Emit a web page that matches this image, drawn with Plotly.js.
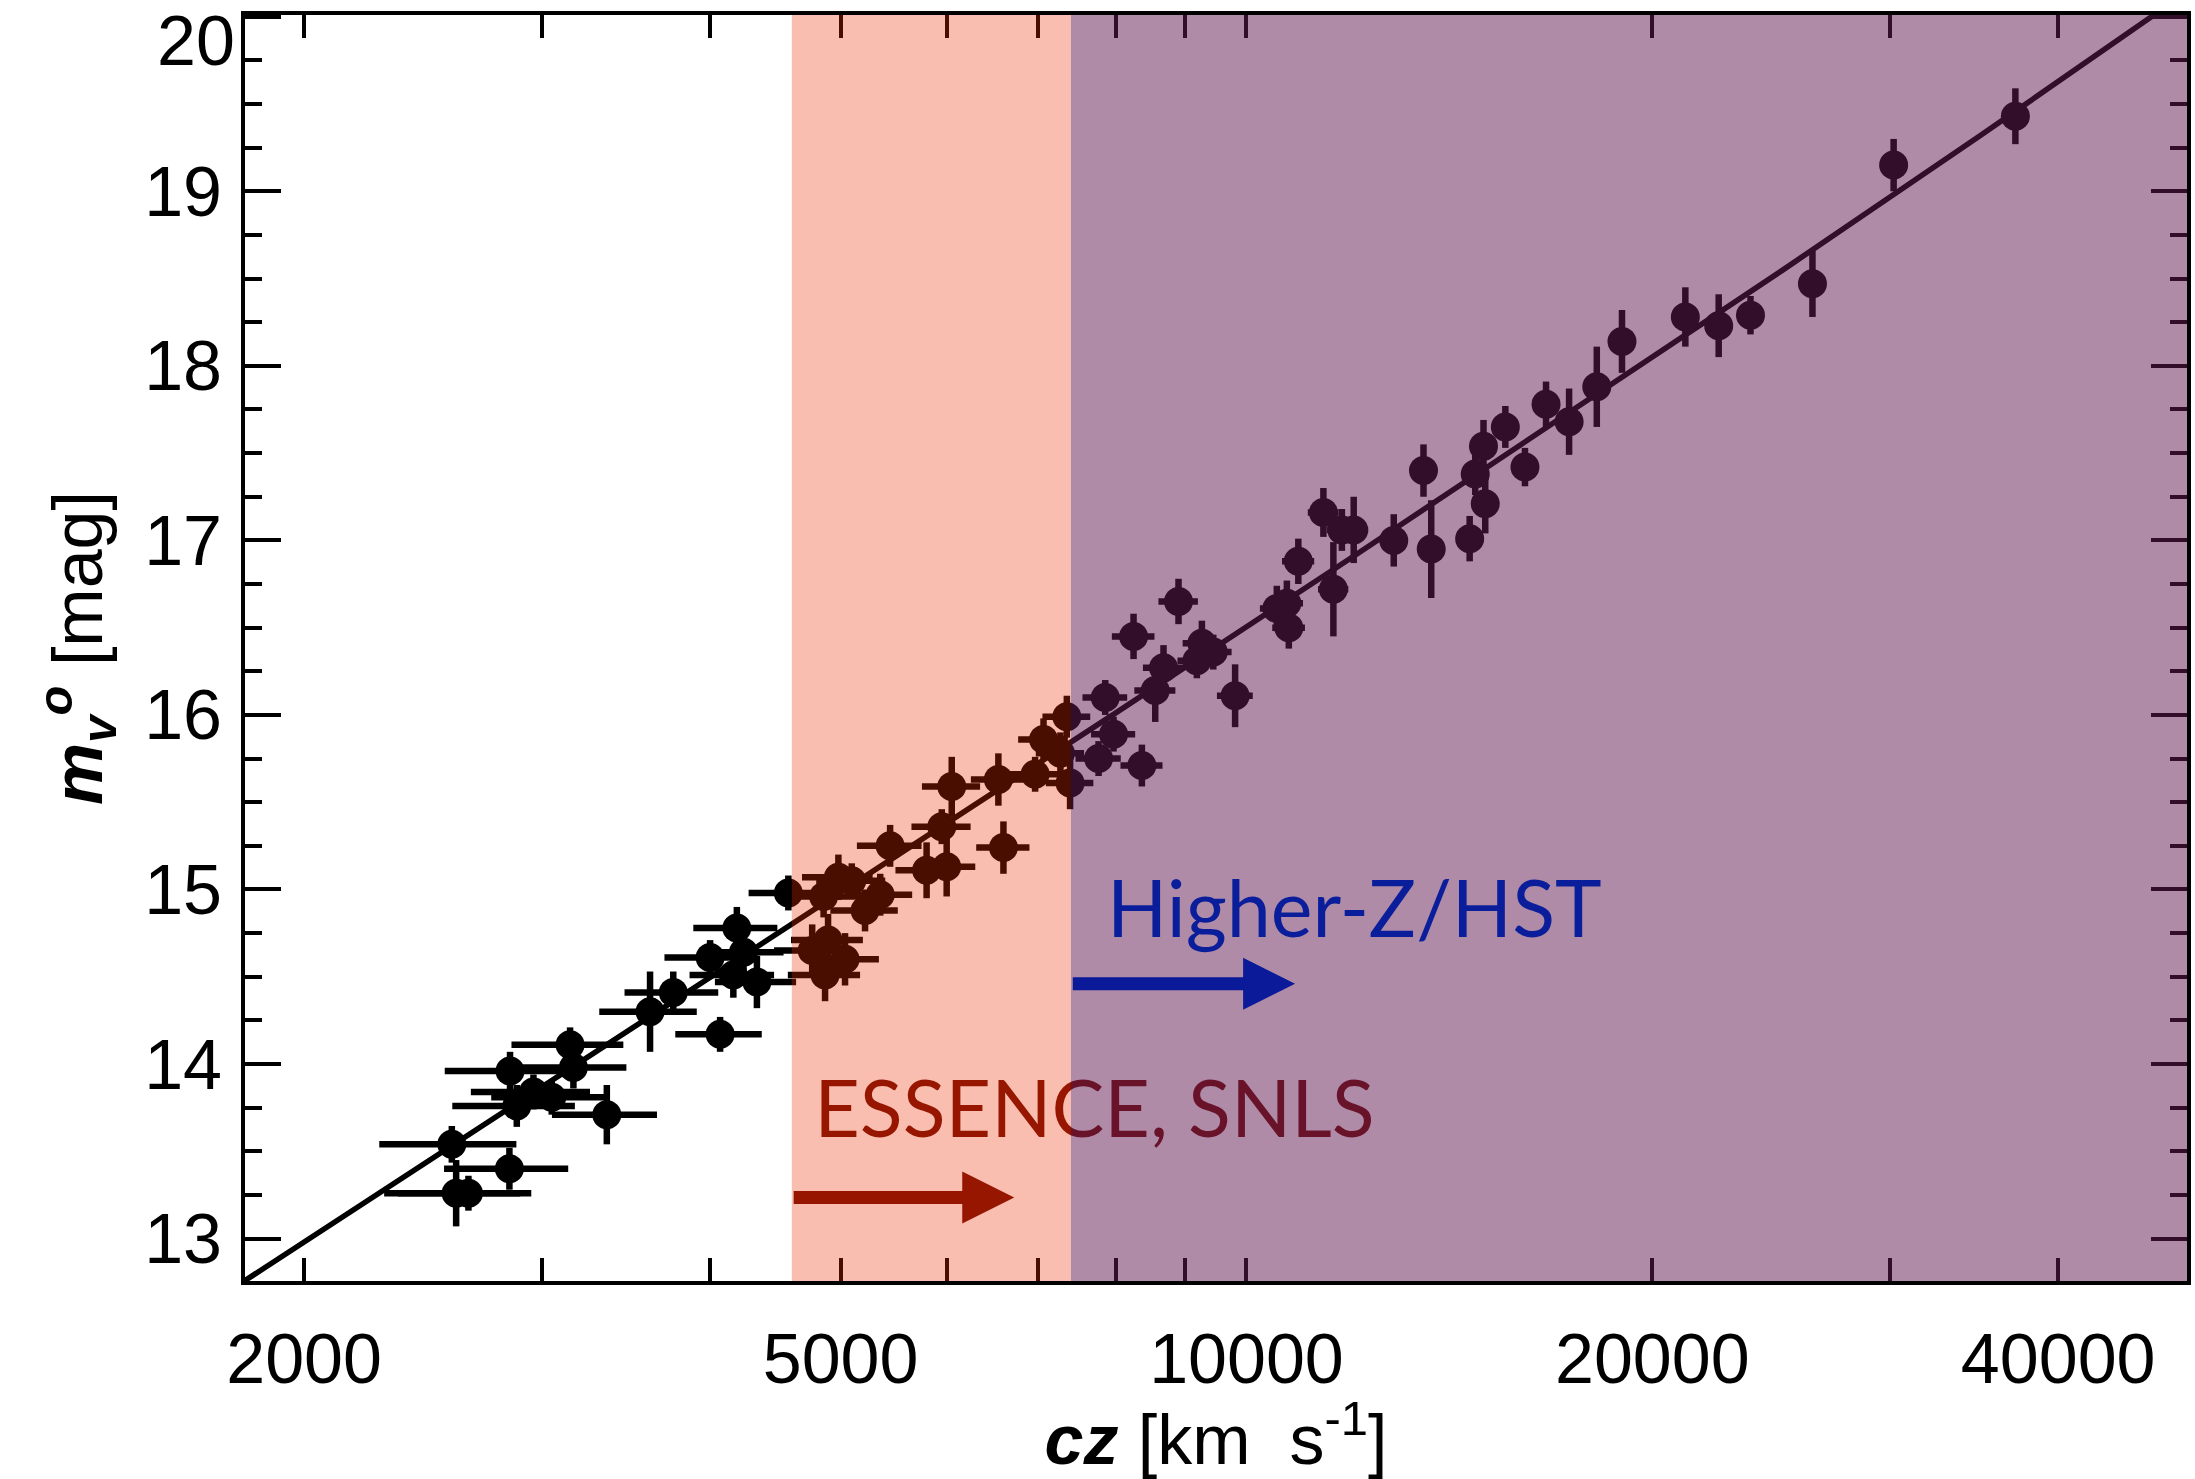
<!DOCTYPE html>
<html><head><meta charset="utf-8">
<script src="https://cdn.plot.ly/plotly-3.0.1.min.js"></script>
<style>html,body{margin:0;padding:0;background:#fff}</style>
</head><body><div id="chart" style="width:2195px;height:1479px"></div>
<script>
// Supernova data: recession velocity cz [km/s], peak magnitude m_V^0 [mag], magnitude error
const cz = [2574, 2593, 2648, 2840, 2843, 2876, 2959, 3053, 3150, 3168,
            3354, 3611, 3757, 4001, 4070, 4163, 4188, 4236, 4334, 4573,
            4763, 4857, 4869, 4894, 4981, 5038, 5096, 5213, 5350, 5441,
            5791, 5943, 5993, 6045, 6546, 6603, 6970, 7071, 7278, 7358,
            7399, 7768, 7857, 7969, 8246, 8364, 8557, 8679, 8904, 9188,
            9267, 9449, 9808, 10532, 10714, 10750, 10926, 11404, 11600, 11770,
            12010, 12860, 13530, 13710, 14640, 14780, 14990, 15035, 15560, 16090,
            16680, 17350, 18190, 18990, 21160, 22400, 23650, 26290, 30200, 37180];
const mag = [13.54, 13.26, 13.26, 13.40, 13.96, 13.76, 13.84, 13.81, 14.11, 13.98,
             13.71, 14.30, 14.41, 14.61, 14.17, 14.51, 14.78, 14.64, 14.47, 14.98,
             14.65, 14.96, 14.51, 14.71, 15.07, 14.60, 15.05, 14.88, 14.97, 15.25,
             15.11, 15.36, 15.13, 15.59, 15.63, 15.24, 15.66, 15.86, 15.78, 15.99,
             15.61, 15.75, 16.10, 15.89, 16.45, 15.71, 16.14, 16.27, 16.65, 16.31,
             16.41, 16.36, 16.11, 16.61, 16.64, 16.50, 16.88, 17.16, 16.72, 17.06,
             17.06, 17.00, 17.40, 16.95, 17.01, 17.38, 17.54, 17.21, 17.65, 17.42,
             17.78, 17.68, 17.88, 18.14, 18.28, 18.23, 18.29, 18.47, 19.15, 19.43];
const magErr = [0.105, 0.19, 0.10, 0.12, 0.11, 0.12, 0.10, 0.10, 0.10, 0.12,
                0.17, 0.23, 0.12, 0.10, 0.10, 0.13, 0.12, 0.10, 0.15, 0.10,
                0.15, 0.12, 0.15, 0.15, 0.13, 0.15, 0.10, 0.12, 0.12, 0.12,
                0.16, 0.10, 0.17, 0.17, 0.15, 0.15, 0.10, 0.12, 0.12, 0.12,
                0.15, 0.10, 0.10, 0.10, 0.13, 0.12, 0.18, 0.13, 0.13, 0.10,
                0.13, 0.10, 0.18, 0.13, 0.13, 0.12, 0.13, 0.14, 0.27, 0.12,
                0.19, 0.15, 0.15, 0.28, 0.13, 0.12, 0.15, 0.17, 0.12, 0.11,
                0.13, 0.19, 0.23, 0.18, 0.17, 0.18, 0.11, 0.19, 0.15, 0.16];
const czErr = 300;

// Model curve
const fitCz  = [1800, 3000, 5000, 8000, 12000, 18000, 25000, 35000, 50000];
const fitMag = [12.750, 13.864, 14.980, 16.012, 16.908, 17.810, 18.550, 19.318, 20.149];

// Survey ranges (cz)
const essenceRange = [4600, 7410];
const hstRange = [7410, 60000];

// Axis ticks
const xTickVals = [2000, 3000, 4000, 5000, 6000, 7000, 8000, 9000, 10000, 20000, 30000, 40000];
const xTickText = ['2000', '', '', '5000', '', '', '', '', '10000', '20000', '', '40000'];
const yTickVals = [13, 14, 15, 16, 17, 18, 19, 20];
const yTickText = ['13', '14', '15', '16', '17', '18', '19', ''];

// Label anchors
const essenceLabel = {cz: 4780, mag: 13.696, text: 'ESSENCE, SNLS'};
const hstLabel = {cz: 7850, mag: 14.90, text: 'Higher-Z/HST'};
const essenceArrow = {from: 4603, to: 6726, mag: 13.236};
const hstArrow = {from: 7414, to: 10866, mag: 14.46};

const tickFont = {family: 'Liberation Sans, Arial, sans-serif', size: 70, color: '#000'};
const labelFont = 'Lato, sans-serif';

const traces = [
  {
    x: fitCz, y: fitMag, mode: 'lines', type: 'scatter',
    line: {color: '#000', width: 5.5}, hoverinfo: 'skip', showlegend: false
  },
  {
    x: cz, y: mag, mode: 'markers', type: 'scatter',
    marker: {color: '#000', size: 29, line: {width: 0}},
    error_y: {type: 'data', array: magErr, visible: true, color: '#000', thickness: 6.5, width: 0},
    error_x: {type: 'constant', value: czErr, visible: true, color: '#000', thickness: 6.5, width: 0},
    showlegend: false
  },
  {
    x: [essenceLabel.cz], y: [essenceLabel.mag], mode: 'text', type: 'scatter',
    text: [essenceLabel.text], textposition: 'middle right',
    textfont: {family: labelFont, size: 79, color: '#6e0c00'},
    cliponaxis: false, hoverinfo: 'skip', showlegend: false
  }
];

const layout = {
  width: 2195, height: 1479,
  margin: {l: 245, r: 8, t: 15, b: 198},
  paper_bgcolor: '#fff', plot_bgcolor: '#fff',
  showlegend: false,
  xaxis: {
    type: 'log', range: [3.2572, 4.6976],
    tickvals: xTickVals, ticktext: xTickText,
    ticks: 'inside', ticklen: 23, tickwidth: 4, tickcolor: '#000',
    showline: true, linewidth: 4, linecolor: '#000', mirror: 'ticks',
    showgrid: false, zeroline: false,
    tickfont: tickFont, ticklabelstandoff: 14,
    title: {text: '<b><i>cz</i></b> [km&nbsp;&nbsp;s<sup>-1</sup>]', font: {family: 'Liberation Sans, Arial, sans-serif', size: 70, color: '#000'}, standoff: 34}
  },
  yaxis: {
    range: [12.757, 20.01],
    tickvals: yTickVals, ticktext: yTickText,
    ticks: 'inside', ticklen: 36, tickwidth: 4, tickcolor: '#000',
    minor: {dtick: 0.25, ticks: 'inside', ticklen: 17, tickwidth: 4, tickcolor: '#000', showgrid: false},
    showline: true, linewidth: 4, linecolor: '#000', mirror: 'ticks',
    showgrid: false, zeroline: false,
    tickfont: tickFont, ticklabelstandoff: 5,
    title: {text: '<b><i>m<sub>v</sub><sup>o</sup></i></b> [mag]', font: {family: 'Liberation Sans, Arial, sans-serif', size: 70, color: '#000'}, standoff: 20}
  },
  shapes: [
    {type: 'rect', xref: 'x', yref: 'paper', x0: essenceRange[0], x1: essenceRange[1], y0: 0, y1: 1,
     fillcolor: 'rgba(239,45,0,0.31)', line: {width: 0}, layer: 'above'},
    {type: 'rect', xref: 'x', yref: 'paper', x0: hstRange[0], x1: hstRange[1], y0: 0, y1: 1,
     fillcolor: 'rgba(100,27,82,0.51)', line: {width: 0}, layer: 'above'}
  ],
  annotations: [
    {xref: 'x', yref: 'y', axref: 'x', ayref: 'y',
     x: Math.log10(essenceArrow.to), y: essenceArrow.mag,
     ax: Math.log10(essenceArrow.from), ay: essenceArrow.mag,
     text: '', showarrow: true, arrowhead: 2, arrowsize: 0.8, arrowwidth: 13, arrowcolor: '#961600'},
    {xref: 'x', yref: 'y', axref: 'x', ayref: 'y',
     x: Math.log10(hstArrow.to), y: hstArrow.mag,
     ax: Math.log10(hstArrow.from), ay: hstArrow.mag,
     text: '', showarrow: true, arrowhead: 2, arrowsize: 0.8, arrowwidth: 13, arrowcolor: '#0a1a99'},
    {xref: 'x', yref: 'y', x: Math.log10(hstLabel.cz), y: hstLabel.mag,
     xanchor: 'left', yanchor: 'middle', showarrow: false, text: hstLabel.text,
     font: {family: labelFont, size: 79, color: '#0a1e9b'}},
    {xref: 'paper', yref: 'paper', x: 0, y: 1, xanchor: 'right', yanchor: 'top',
     xshift: -9, yshift: 14, borderpad: 0, showarrow: false, text: '20', font: tickFont}
  ]
};

Plotly.newPlot('chart', traces, layout, {displayModeBar: false, staticPlot: true});
</script>
</body></html>
